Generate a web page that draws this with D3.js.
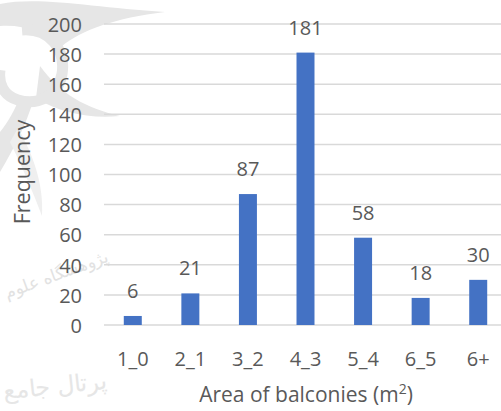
<!DOCTYPE html>
<html>
<head>
<meta charset="utf-8">
<script src="https://cdn.jsdelivr.net/npm/d3@7"></script>
<style>
  html, body { margin: 0; padding: 0; background: #fff; }
  svg { display: block; }
  text { font-family: "Open Sans", sans-serif; fill: #595959; }
</style>
</head>
<body>
<svg id="chart" width="501" height="411"></svg>
<script>
// Balcony area classes and how many units fall in each
const categories = ["1_0", "2_1", "3_2", "4_3", "5_4", "6_5", "6+"];
const frequency = [6, 21, 87, 181, 58, 18, 30];
const yTicks = [0, 20, 40, 60, 80, 100, 120, 140, 160, 180, 200];

const svg = d3.select("#chart");
const W = 501, H = 411;
const plot = { left: 104, right: 507, top: 24, bottom: 325 };
const FONT = "'Open Sans', sans-serif";

// faint publisher watermark behind the chart: ornament plus Persian lettering
const ornament = svg.append("g").attr("fill", "#e6e6e6");
ornament.append("path").attr("d", "M0,4 C40,-4 95,8 165,12 C115,18 82,30 62,46 C46,32 22,24 0,26 Z");
ornament.append("path").attr("d", "M40,66 C60,94 86,108 120,116 C90,119 60,113 36,98 Z");
ornament.append("path").attr("d", "M34,98 C26,126 13,150 0,172 L0,132 C8,122 15,110 20,96 Z");
ornament.append("path").attr("d", "M18,128 C34,156 44,186 42,216 C32,190 22,166 10,142 Z").attr("fill", "#efefef");
svg.append("path")
  .attr("d", "M22,30 C50,28 66,50 62,74 C58,96 38,106 18,100 C4,96 -2,84 0,70")
  .attr("fill", "none")
  .attr("stroke", "#e6e6e6")
  .attr("stroke-width", 11);
svg.append("text")
  .attr("transform", "translate(58,280) rotate(-20)")
  .attr("text-anchor", "middle")
  .attr("font-family", "'DejaVu Sans', sans-serif")
  .attr("font-size", 17)
  .style("fill", "#e2e2e2")
  .text("پژوهشگاه علوم");
svg.append("text")
  .attr("transform", "translate(56,394) rotate(-6)")
  .attr("text-anchor", "middle")
  .attr("font-family", "'DejaVu Sans', sans-serif")
  .attr("font-size", 24)
  .style("fill", "#e6e6e6")
  .text("پرتال جامع");

const x = d3.scaleBand()
  .domain(categories)
  .range([plot.left, plot.right])
  .paddingInner(0.6875)
  .paddingOuter(0.34375);

const y = d3.scaleLinear()
  .domain([0, 200])
  .range([plot.bottom, plot.top]);

// horizontal gridlines
svg.append("g")
  .selectAll("line")
  .data(yTicks)
  .join("line")
  .attr("x1", plot.left)
  .attr("x2", W)
  .attr("y1", d => y(d))
  .attr("y2", d => y(d))
  .attr("stroke", "#d9d9d9")
  .attr("stroke-width", 1.5);

// y tick labels
const yAxis = d3.axisLeft(y).tickValues(yTicks).tickSize(0).tickPadding(0);
const gy = svg.append("g").attr("transform", "translate(82,0)").call(yAxis);
gy.select(".domain").remove();
gy.selectAll("text")
  .attr("font-family", FONT)
  .attr("font-size", 20)
  .attr("fill", "#595959")
  .attr("dy", "0.36em");

// bars
svg.append("g")
  .selectAll("rect")
  .data(frequency)
  .join("rect")
  .attr("x", (d, i) => x(categories[i]))
  .attr("width", x.bandwidth())
  .attr("y", d => y(d))
  .attr("height", d => y(0) - y(d))
  .attr("fill", "#4472c4");

// value labels above bars
svg.append("g")
  .selectAll("text")
  .data(frequency)
  .join("text")
  .attr("x", (d, i) => x(categories[i]) + x.bandwidth() / 2)
  .attr("y", d => y(d) - 18)
  .attr("text-anchor", "middle")
  .attr("font-size", 20)
  .text(d => d);

// category labels
const xAxis = d3.axisBottom(x).tickSize(0).tickPadding(0);
const gx = svg.append("g").attr("transform", "translate(0,352)").call(xAxis);
gx.select(".domain").remove();
gx.selectAll("text")
  .attr("font-family", FONT)
  .attr("font-size", 20)
  .attr("fill", "#595959")
  .attr("dy", "0.72em");

// axis titles
const xt = svg.append("text")
  .attr("x", 306)
  .attr("y", 402)
  .attr("text-anchor", "middle")
  .attr("font-size", 21);
xt.append("tspan").text("Area of balconies (m");
xt.append("tspan").attr("font-size", 14).attr("dy", -8).text("2");
xt.append("tspan").attr("dy", 8).text(")");

svg.append("text")
  .attr("transform", "translate(30,172) rotate(-90)")
  .attr("text-anchor", "middle")
  .attr("font-size", 21.5)
  .text("Frequency");
</script>
</body>
</html>
